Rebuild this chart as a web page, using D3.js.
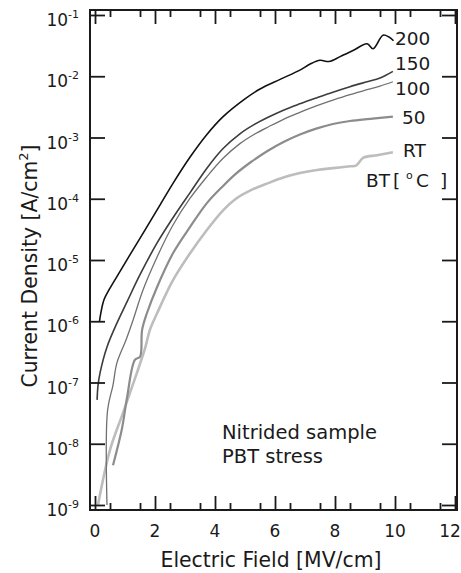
<!DOCTYPE html>
<html><head><meta charset="utf-8">
<script src="https://cdn.jsdelivr.net/npm/d3@7"></script>
<style>
body{margin:0;background:#fff}
svg{display:block}
text{font-family:"DejaVu Sans",sans-serif;fill:#1a1a1a}
</style>
</head><body>
<svg id="chart" width="461" height="573"></svg>
<script>
// ---- data ----
const xTickValues = [0, 2, 4, 6, 8, 10, 12];
const yTickExponents = [-9, -8, -7, -6, -5, -4, -3, -2, -1];
const seriesNames = ["200", "150", "100", "50", "RT"];

const field200 = [0.15,0.2,0.3,0.5,0.83,1.27,1.73,2.17,2.6,3.17,3.73,4.27,5.0,5.5,6.17,6.83,7.17,7.5,7.8,8.17,8.6,9.07,9.27,9.6,9.8,9.95];
const current200 = [1.0e-6,1.41e-6,2.24e-6,3.47e-6,6.46e-6,1.48e-5,3.47e-5,7.94e-5,1.78e-4,4.79e-4,1.12e-3,2.19e-3,4.27e-3,6.2e-3,8.9e-3,1.26e-2,1.58e-2,1.82e-2,1.74e-2,2.09e-2,2.63e-2,3.39e-2,2.82e-2,4.68e-2,4.37e-2,3.8e-2];

const field150 = [0.07,0.1,0.17,0.4,0.73,1.07,1.5,2.07,2.6,3.17,3.73,4.27,4.83,5.3,5.77,6.3,6.83,7.4,7.93,8.5,9.07,9.5,9.93];
const current150 = [5.2e-8,8.9e-8,1.45e-7,3.8e-7,9.3e-7,2.09e-6,5.75e-6,1.9e-5,4.9e-5,1.26e-4,3.16e-4,6.61e-4,1.15e-3,1.62e-3,2.14e-3,2.82e-3,3.55e-3,4.47e-3,5.5e-3,6.76e-3,8.13e-3,9.33e-3,1.2e-2];

const field100 = [0.4,0.42,0.6,0.73,1.03,1.27,1.6,2.07,2.6,3.17,3.73,4.27,4.83,5.3,5.8,6.3,6.83,7.4,7.93,8.5,9.07,9.5,9.93];
const current100 = [1.0e-9,3.55e-8,9.1e-8,2.09e-7,4.9e-7,1.05e-6,3.24e-6,1.12e-5,3.72e-5,1.02e-4,2.29e-4,4.57e-4,7.94e-4,1.12e-3,1.51e-3,2.0e-3,2.57e-3,3.31e-3,4.07e-3,5.01e-3,6.03e-3,6.92e-3,8.13e-3];

const field50 = [0.6,0.9,1.07,1.33,1.5,1.57,1.73,2.07,2.6,3.17,3.73,4.27,4.7,5.2,5.75,6.3,6.83,7.4,7.93,8.5,9.07,9.5,9.93];
const current50 = [4.47e-9,1.78e-8,5.75e-8,2.34e-7,2.63e-7,7.24e-7,1.35e-6,3.63e-6,1.29e-5,3.47e-5,8.5e-5,1.62e-4,2.57e-4,3.98e-4,6.03e-4,8.51e-4,1.12e-3,1.41e-3,1.66e-3,1.86e-3,2.0e-3,2.09e-3,2.19e-3];

const fieldRT = [0.1,0.5,0.93,1.4,1.67,1.83,2.07,2.6,3.17,3.73,4.27,4.7,5.2,5.75,6.3,6.83,7.4,7.93,8.5,8.7,8.95,9.4,9.93];
const currentRT = [1.0e-9,7.94e-9,3.16e-8,1.45e-7,3.63e-7,7.24e-7,1.35e-6,4.68e-6,1.29e-5,3.09e-5,6.46e-5,1.0e-4,1.38e-4,1.78e-4,2.24e-4,2.63e-4,2.95e-4,3.16e-4,3.39e-4,3.47e-4,4.68e-4,5.13e-4,5.75e-4];

// ---- layout ----
const svg = d3.select("#chart");
const frame = {left: 90, right: 457, top: 10, bottom: 510};
const x = d3.scaleLinear().domain([0, 12]).range([95, 455]);
const y = d3.scaleLog().domain([1e-9, 1e-1]).range([505, 15]);

const series = [
  {name: seriesNames[0], e: field200, j: current200, color: "#111111", w: 1.6},
  {name: seriesNames[1], e: field150, j: current150, color: "#3c3c3c", w: 1.6},
  {name: seriesNames[2], e: field100, j: current100, color: "#707070", w: 1.3},
  {name: seriesNames[3], e: field50,  j: current50,  color: "#8c8c8c", w: 2.2},
  {name: seriesNames[4], e: fieldRT,  j: currentRT,  color: "#bdbdbd", w: 2.6}
];

svg.append("clipPath").attr("id", "clip").append("rect")
  .attr("x", frame.left).attr("y", frame.top)
  .attr("width", frame.right - frame.left).attr("height", frame.bottom - frame.top);

const line = d3.line().x(d => x(d[0])).y(d => y(d[1])).curve(d3.curveCatmullRom.alpha(0.5));
const g = svg.append("g").attr("clip-path", "url(#clip)");
series.slice().reverse().forEach(s => {
  g.append("path")
    .datum(s.e.map((v, i) => [v, s.j[i]]))
    .attr("d", line)
    .attr("fill", "none")
    .attr("stroke", s.color)
    .attr("stroke-width", s.w)
    .attr("stroke-linejoin", "round");
});

// ---- axes (inward ticks on all four sides) ----
const minorX = d3.range(0.5, 12, 1);
const yTicks = yTickExponents.map(e => Math.pow(10, e));
function styleAxis(sel) {
  sel.select(".domain").remove();
  sel.selectAll("text").remove();
  sel.selectAll("line").attr("stroke", "#1a1a1a").attr("stroke-width", 1.8);
}
svg.append("g").attr("transform", `translate(0,${frame.bottom})`)
  .call(d3.axisBottom(x).tickValues(xTickValues).tickSize(-14)).call(styleAxis);
svg.append("g").attr("transform", `translate(0,${frame.bottom})`)
  .call(d3.axisBottom(x).tickValues(minorX).tickSize(-7)).call(styleAxis);
svg.append("g").attr("transform", `translate(0,${frame.top})`)
  .call(d3.axisTop(x).tickValues(xTickValues).tickSize(-14)).call(styleAxis);
svg.append("g").attr("transform", `translate(0,${frame.top})`)
  .call(d3.axisTop(x).tickValues(minorX).tickSize(-7)).call(styleAxis);
svg.append("g").attr("transform", `translate(${frame.left},0)`)
  .call(d3.axisLeft(y).tickValues(yTicks).tickSize(-15)).call(styleAxis);
svg.append("g").attr("transform", `translate(${frame.right},0)`)
  .call(d3.axisRight(y).tickValues(yTicks).tickSize(-15)).call(styleAxis);

svg.append("rect")
  .attr("x", frame.left).attr("y", frame.top)
  .attr("width", frame.right - frame.left).attr("height", frame.bottom - frame.top)
  .attr("fill", "none").attr("stroke", "#1a1a1a").attr("stroke-width", 2);

// ---- tick labels ----
xTickValues.forEach(v => {
  svg.append("text").attr("x", Math.min(x(v), 450)).attr("y", 537)
    .attr("text-anchor", "middle").attr("font-size", 17).text(v);
});
yTickExponents.forEach(e => {
  const t = svg.append("text").attr("x", 79).attr("y", y(Math.pow(10, e)) + 11)
    .attr("text-anchor", "end").attr("font-size", 17);
  t.append("tspan").text("10");
  t.append("tspan").attr("font-size", 11).attr("dy", -8).text("-" + Math.abs(e));
});

// ---- axis titles ----
svg.append("text").attr("x", 271).attr("y", 567)
  .attr("text-anchor", "middle").attr("font-size", 20.4).text("Electric Field [MV/cm]");
const yt = svg.append("text")
  .attr("transform", "translate(37,266) rotate(-90)")
  .attr("text-anchor", "middle").attr("font-size", 20.4);
yt.append("tspan").text("Current Density [A/cm");
yt.append("tspan").attr("font-size", 13).attr("dy", -9).text("2");
yt.append("tspan").attr("dy", 9).text("]");

// ---- series labels ----
const labelPos = [[395, 45], [395, 70], [395, 95], [402, 124], [403, 157]];
series.forEach((s, i) => {
  svg.append("text").attr("x", labelPos[i][0]).attr("y", labelPos[i][1])
    .attr("font-size", 18.5).text(s.name);
});
const bt = svg.append("text").attr("y", 187).attr("font-size", 18.5);
bt.append("tspan").attr("x", 366).text("BT");
bt.append("tspan").attr("x", 393).text("[");
bt.append("tspan").attr("x", 406).attr("font-size", 11).attr("dy", -8).text("o");
bt.append("tspan").attr("x", 416).attr("dy", 8).text("C");
bt.append("tspan").attr("x", 440).text("]");

// ---- annotation ----
svg.append("text").attr("x", 222).attr("y", 439).attr("font-size", 19.5).text("Nitrided sample");
svg.append("text").attr("x", 222).attr("y", 463).attr("font-size", 19.5).text("PBT stress");
</script>
</body></html>
